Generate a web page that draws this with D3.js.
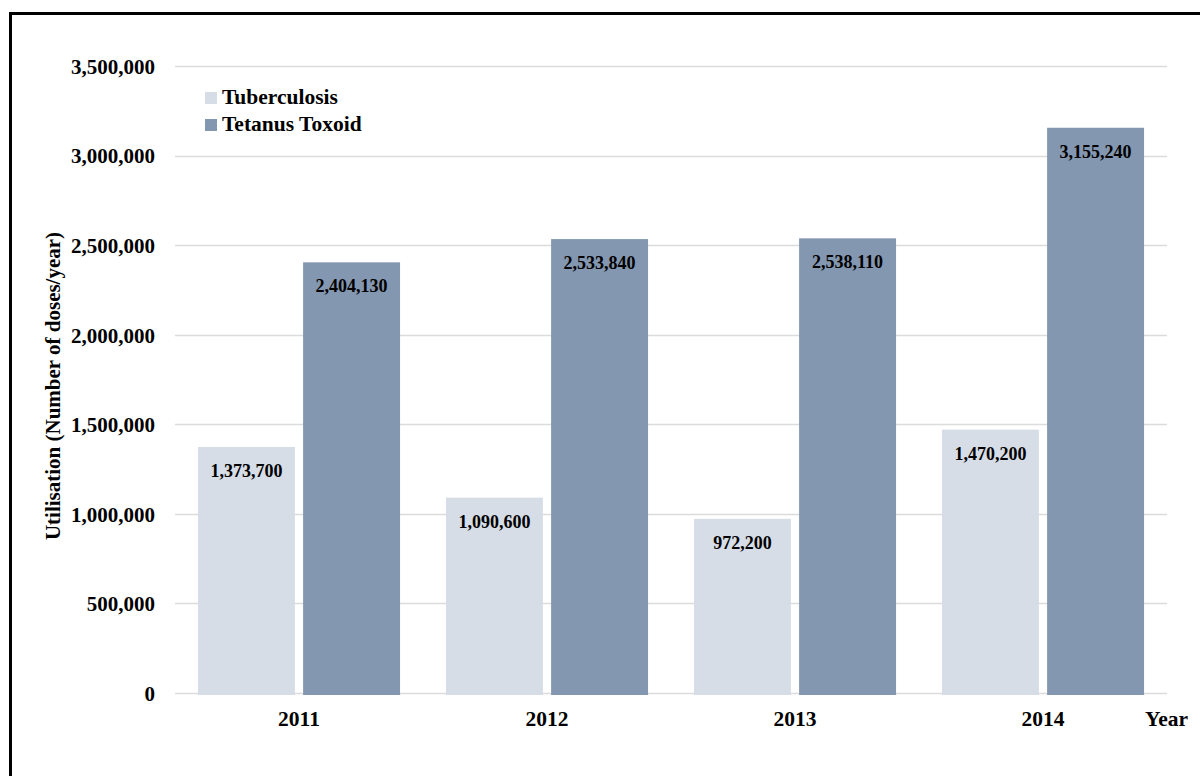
<!DOCTYPE html>
<html>
<head>
<meta charset="utf-8">
<script src="https://cdn.jsdelivr.net/npm/d3@7/dist/d3.min.js"></script>
<style>
  html, body { margin: 0; padding: 0; background: #fff; }
  svg { display: block; }
  text { font-family: "Liberation Serif", "Times New Roman", serif; font-weight: bold; fill: #000; }
</style>
</head>
<body>
<svg id="chart" width="1200" height="776"></svg>
<script>
// Vaccine utilisation per year
const years = ["2011", "2012", "2013", "2014"];
const seriesNames = ["Tuberculosis", "Tetanus Toxoid"];
const tuberculosis = [1373700, 1090600, 972200, 1470200];
const tetanusToxoid = [2404130, 2533840, 2538110, 3155240];
const yTicks = [0, 500000, 1000000, 1500000, 2000000, 2500000, 3000000, 3500000];
const colors = ["#d6dde7", "#8497b0"];

const svg = d3.select("#chart");

// outer frame
svg.append("rect")
  .attr("x", 10.5).attr("y", 13.5)
  .attr("width", 1200).attr("height", 800)
  .attr("fill", "none").attr("stroke", "#000").attr("stroke-width", 3);

const plot = { left: 175, right: 1167, top: 66, bottom: 693 };

const x0 = d3.scaleBand().domain(years)
  .range([plot.left, plot.right]).paddingInner(0.185).paddingOuter(0.0925);
const x1 = d3.scaleBand().domain(seriesNames)
  .range([0, x0.bandwidth()]).paddingInner(0.078);
const y = d3.scaleLinear().domain([0, 3500000]).range([plot.bottom, plot.top]);

const fmt = d3.format(",");

// gridlines
svg.append("g")
  .selectAll("line").data(yTicks).join("line")
  .attr("x1", plot.left).attr("x2", plot.right)
  .attr("y1", d => Math.round(y(d)) + 0.5).attr("y2", d => Math.round(y(d)) + 0.5)
  .attr("stroke", "#dcdcdc").attr("stroke-width", 1.3);

// y axis tick labels
const yAxis = d3.axisLeft(y).tickValues(yTicks).tickFormat(fmt).tickSize(0).tickPadding(0);
const gy = svg.append("g").attr("transform", `translate(${plot.left - 20},0)`).call(yAxis);
gy.select(".domain").remove();
gy.selectAll("text")
  .attr("font-size", 21).attr("dy", "0.35em")
  .style("font-family", '"Liberation Serif", serif').style("font-weight", "bold").attr("fill", "#000");

// x axis labels
const xAxis = d3.axisBottom(x0).tickSize(0).tickPadding(0);
const gx = svg.append("g").attr("transform", `translate(0,${plot.bottom + 33})`).call(xAxis);
gx.select(".domain").remove();
gx.selectAll("text")
  .attr("font-size", 21.5).attr("dy", 0).attr("y", 0)
  .style("font-family", '"Liberation Serif", serif').style("font-weight", "bold").attr("fill", "#000");

svg.append("text")
  .attr("x", 1145).attr("y", 726)
  .attr("font-size", 21.5)
  .text("Year");

// y axis title
svg.append("text")
  .attr("transform", `translate(60,386) rotate(-90)`)
  .attr("text-anchor", "middle")
  .attr("font-size", 21)
  .text("Utilisation (Number of doses/year)");

// bars
const rows = years.map((yr, i) => ({
  year: yr,
  values: [
    { name: seriesNames[0], value: tuberculosis[i] },
    { name: seriesNames[1], value: tetanusToxoid[i] }
  ]
}));

const groups = svg.append("g").selectAll("g").data(rows).join("g")
  .attr("transform", d => `translate(${x0(d.year)},0)`);

groups.selectAll("rect").data(d => d.values).join("rect")
  .attr("x", d => x1(d.name))
  .attr("width", x1.bandwidth())
  .attr("y", d => y(d.value))
  .attr("height", d => y(0) - y(d.value) + 2)
  .attr("fill", (d, i) => colors[i]);

groups.selectAll("text.val").data(d => d.values).join("text")
  .attr("class", "val")
  .attr("x", d => x1(d.name) + x1.bandwidth() / 2)
  .attr("y", d => y(d.value) + 30)
  .attr("text-anchor", "middle")
  .attr("font-size", 18)
  .text(d => fmt(d.value));

// legend
const legend = svg.append("g").attr("transform", "translate(205,92)");
seriesNames.forEach((name, i) => {
  const g = legend.append("g").attr("transform", `translate(0,${i * 27})`);
  g.append("rect").attr("width", 12).attr("height", 12).attr("fill", colors[i]);
  g.append("text").attr("x", 17).attr("y", 12).attr("font-size", 21.5).text(name);
});
</script>
</body>
</html>
